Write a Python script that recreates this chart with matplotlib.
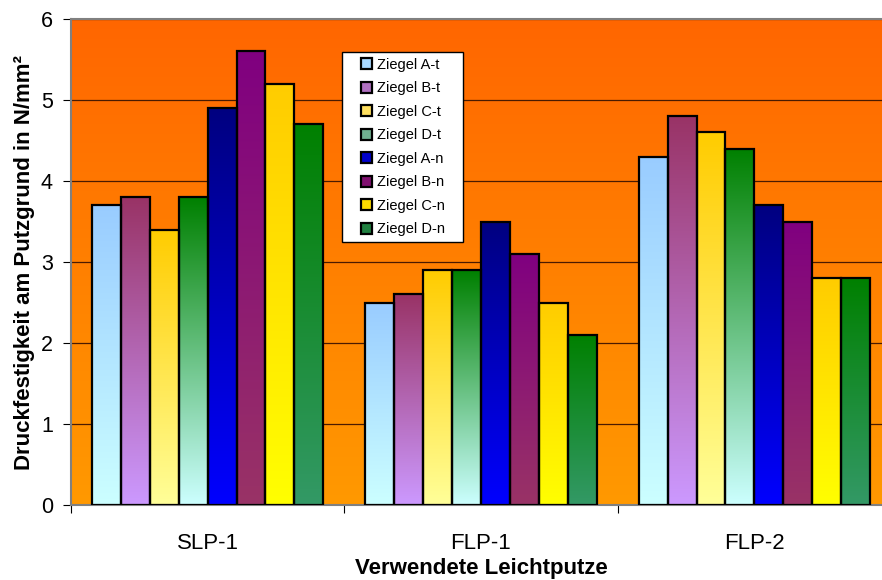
import numpy as np
import matplotlib.pyplot as plt
from matplotlib.colors import to_rgb
from matplotlib.patches import Patch, Rectangle
from matplotlib.legend_handler import HandlerPatch

plt.rcParams['font.family'] = ['Liberation Sans', 'DejaVu Sans']

# Daten
groups = ['SLP-1', 'FLP-1', 'FLP-2']
series = ['Ziegel A-t', 'Ziegel B-t', 'Ziegel C-t', 'Ziegel D-t',
          'Ziegel A-n', 'Ziegel B-n', 'Ziegel C-n', 'Ziegel D-n']
values = [
    [3.7, 2.5, 4.3],   # A-t
    [3.8, 2.6, 4.8],   # B-t
    [3.4, 2.9, 4.6],   # C-t
    [3.8, 2.9, 4.4],   # D-t
    [4.9, 3.5, 3.7],   # A-n
    [5.6, 3.1, 3.5],   # B-n
    [5.2, 2.5, 2.8],   # C-n
    [4.7, 2.1, 2.8],   # D-n
]
yticks = [0, 1, 2, 3, 4, 5, 6]

# Farbverlauf je Serie: (oben, unten)
grad_colors = [
    ('#99CCFF', '#CCFFFF'),
    ('#993366', '#CC99FF'),
    ('#FFCC00', '#FFFF99'),
    ('#008000', '#CCFFFF'),
    ('#000080', '#0000FF'),
    ('#800080', '#993366'),
    ('#FFCC00', '#FFFF00'),
    ('#008000', '#339966'),
]
legend_cols = ['#A8D8FF', '#B070C0', '#FFE060', '#70B090',
               '#0000CC', '#801070', '#FFDD00', '#208040']


def gradient(top, bottom, n=256):
    t = np.linspace(0, 1, n)[:, None]
    c0 = np.array(to_rgb(top))
    c1 = np.array(to_rgb(bottom))
    return (c0 * (1 - t) + c1 * t)[:, None, :]


def small_square(legend, orig_handle, xdescent, ydescent, width, height, fontsize):
    s = 0.75 * fontsize
    return Rectangle((-xdescent + width - s, -ydescent + (height - s) / 2), s, s)


fig = plt.figure(figsize=(8.82, 5.8), dpi=100)
ax = fig.add_axes([71 / 882, 1 - 505 / 580, 820 / 882, 486 / 580])

# Hintergrund (orange Verlauf)
ax.imshow(gradient('#FF6600', '#FF9900'), extent=[0, 1, 0, 1],
          transform=ax.transAxes, aspect='auto', zorder=-2)

n = len(series)
group_w = 0.846
bw = group_w / n
for i, (name, vals) in enumerate(zip(series, values)):
    top, bottom = grad_colors[i]
    img = gradient(top, bottom)
    for g, v in enumerate(vals):
        x0 = g - group_w / 2 + i * bw
        ax.imshow(img, extent=[x0, x0 + bw, 0, v], aspect='auto', zorder=2)
        ax.bar(x0, v, width=bw, align='edge', fill=False,
               edgecolor='black', linewidth=1.6, zorder=3)

ax.set_xlim(-0.5, 2.5)
ax.set_ylim(0, 6)
ax.set_yticks(yticks)
ax.yaxis.grid(True, color='#4a1a00', linewidth=0.9, zorder=-1)
ax.set_axisbelow(True)

ax.set_xticks([-0.5, 0.5, 1.5, 2.5])
ax.set_xticklabels([])
ax.set_xticks(range(len(groups)), minor=True)
ax.set_xticklabels(groups, minor=True, fontsize=16)
ax.tick_params(axis='x', which='minor', length=0, pad=20)
ax.tick_params(axis='x', which='major', length=6, direction='out')
ax.tick_params(axis='y', labelsize=15.5, length=6, direction='out', pad=7)

for s in ['left', 'bottom', 'top']:
    ax.spines[s].set_color('#808080')
    ax.spines[s].set_linewidth(1.5)
ax.spines['right'].set_visible(False)

ax.set_ylabel('Druckfestigkeit am Putzgrund in N/mm²', fontsize=16,
              fontweight='bold', labelpad=4)
ax.set_xlabel('Verwendete Leichtputze', fontsize=16, fontweight='bold',
              labelpad=3)

# Leerzeichen am Ende fuer den rechten Rand der Legende
handles = [Patch(facecolor=c, edgecolor='black', linewidth=1.6, label=s + '   ')
           for c, s in zip(legend_cols, series)]
leg = ax.legend(handles=handles, loc='upper left',
                bbox_to_anchor=(0.330, 0.932), fontsize=10.5,
                frameon=True, fancybox=False, framealpha=1,
                edgecolor='black', handlelength=1.7, handleheight=0.75,
                handletextpad=0.3, labelspacing=0.65, borderpad=0.4,
                borderaxespad=0,
                handler_map={Patch: HandlerPatch(patch_func=small_square)})
leg.get_frame().set_linewidth(1.0)
leg.set_zorder(5)

fig.savefig('out.png', dpi=100)
